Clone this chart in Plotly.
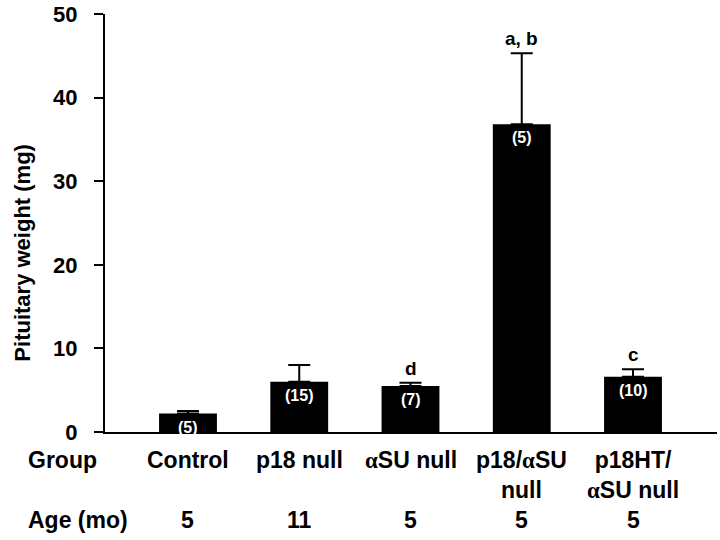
import plotly.graph_objects as go

groups = ["Control", "p18 null", "αSU null", "p18/αSU<br>null", "p18HT/<br>αSU null"]
weights = [2.2, 6.0, 5.5, 36.8, 6.6]
sem_upper = [0.3, 2.0, 0.4, 8.5, 0.9]
n_labels = ["(5)", "(15)", "(7)", "(5)", "(10)"]
sig_labels = ["", "", "d", "a, b", "c"]
ages = ["5", "11", "5", "5", "5"]
y_ticks = [0, 10, 20, 30, 40, 50]

FONT = "Arial, Liberation Sans, sans-serif"
xs = list(range(len(groups)))

def fmt(s):
    return s.replace("α", '<span style="font-family:Liberation Serif, serif">α</span>')

fig = go.Figure()
fig.add_trace(go.Bar(
    x=xs, y=weights, width=0.52,
    marker=dict(color="black", line=dict(width=0)),
    error_y=dict(type="data", symmetric=False, array=sem_upper,
                 arrayminus=[0] * len(xs), color="black", thickness=2, width=11),
    showlegend=False, hoverinfo="skip",
))

ann = []
for i in xs:
    ann.append(dict(x=i, y=weights[i], xref="x", yref="y", text="<b>%s</b>" % n_labels[i],
                    showarrow=False, yanchor="top", yshift=-3,
                    font=dict(family=FONT, size=16, color="white")))
    if sig_labels[i]:
        ann.append(dict(x=i, y=weights[i] + sem_upper[i], xref="x", yref="y",
                        text="<b>%s</b>" % sig_labels[i], showarrow=False,
                        yanchor="bottom", yshift=2,
                        font=dict(family=FONT, size=19, color="black")))
    ann.append(dict(x=i, y=-0.03, xref="x", yref="paper", text="<b>%s</b>" % fmt(groups[i]),
                    showarrow=False, yanchor="top", align="center",
                    font=dict(family=FONT, size=23, color="black")))
    ann.append(dict(x=i, y=-0.21, xref="x", yref="paper", text="<b>%s</b>" % ages[i],
                    showarrow=False, yanchor="middle",
                    font=dict(family=FONT, size=23, color="black")))

ann.append(dict(x=-0.129, y=-0.03, xref="paper", yref="paper", text="<b>Group</b>",
                showarrow=False, xanchor="left", yanchor="top",
                font=dict(family=FONT, size=23, color="black")))
ann.append(dict(x=-0.129, y=-0.21, xref="paper", yref="paper", text="<b>Age (mo)</b>",
                showarrow=False, xanchor="left", yanchor="middle",
                font=dict(family=FONT, size=23, color="black")))
ann.append(dict(x=-0.135, y=0.43, xref="paper", yref="paper",
                text="<b>Pituitary weight (mg)</b>", textangle=-90,
                showarrow=False, xanchor="center", yanchor="middle",
                font=dict(family=FONT, size=22, color="black")))

fig.update_layout(
    width=720, height=540,
    margin=dict(l=105, r=3, t=14, b=108),
    paper_bgcolor="white", plot_bgcolor="white",
    annotations=ann,
    xaxis=dict(range=[-0.746, 4.755], showticklabels=False, ticks="",
               showline=True, linecolor="black", linewidth=2, automargin=False,
               showgrid=False, zeroline=False, fixedrange=True),
    yaxis=dict(range=[0, 50], tickvals=y_ticks,
               ticktext=["<b>%d</b>" % v for v in y_ticks],
               ticks="outside", ticklen=9, tickwidth=2,
               tickcolor="black", showline=True, linecolor="black", linewidth=2,
               showgrid=False, zeroline=False, ticklabelstandoff=12, automargin=False,
               fixedrange=True,
               tickfont=dict(family=FONT, size=22, color="black")),
)

fig.write_html("out.html", config={"displayModeBar": False},
               post_script="document.body.style.margin='0';")
